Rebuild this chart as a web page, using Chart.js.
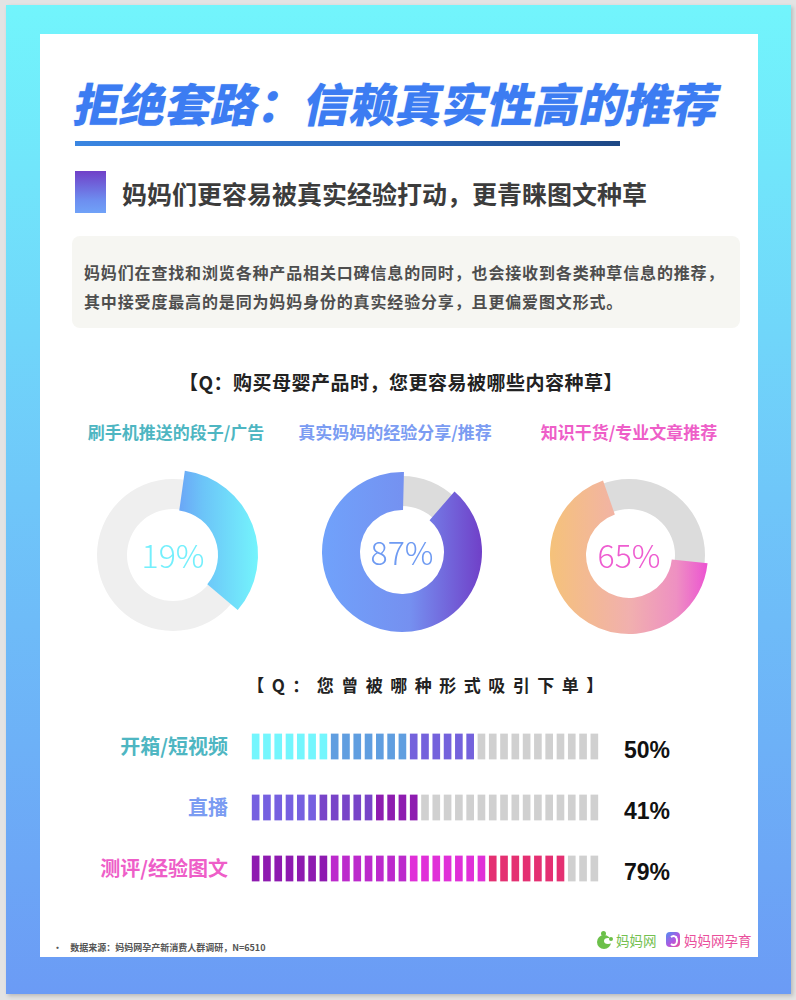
<!DOCTYPE html>
<html>
<head>
<meta charset="utf-8">
<script src="https://cdn.jsdelivr.net/npm/chart.js@4.4.1/dist/chart.umd.min.js"></script>
<style>
  html, body { margin: 0; padding: 0; }
  body { width: 796px; height: 1000px; background: #e3e3e3; position: relative; overflow: hidden;
         font-family: "Noto Sans CJK SC", "Noto Sans", sans-serif; }
  .abs { position: absolute; }
  #frame { left: 6px; top: 5px; width: 785px; height: 989px;
           background: linear-gradient(to bottom, #72f5fc 0%, #6fc6f9 50%, #6b9bf5 100%);
           box-shadow: 2px 2px 4px rgba(0,0,0,0.18); }
  #panel { left: 40px; top: 34px; width: 718px; height: 923px; background: #fff; }
  #title { left: 0; width: 796px; top: 72px; text-align: center; font-size: 46px; font-weight: 900;
           color: #3c7cf2; transform: skewX(-12deg); line-height: 60px; white-space: nowrap;
           text-shadow: 0 0 1px rgba(120,170,250,0.6); }
  #rule { left: 75px; top: 141px; width: 545px; height: 5px;
          background: linear-gradient(to right, #3a86e2, #2a66b8 60%, #1d4784); }
  #mark { left: 75px; top: 171px; width: 31px; height: 42px;
          background: linear-gradient(to bottom, #7040c8, #6d8ef0 70%, #70a2f8); }
  #sub { left: 122px; top: 173px; font-size: 25px; font-weight: 700; color: #3c3c3c; line-height: 40px; white-space: nowrap; }
  #box { left: 72px; top: 236px; width: 668px; height: 92px; background: #f6f6f2; border-radius: 8px; }
  #intro { left: 84px; top: 258px; font-size: 16px; font-weight: 700; color: #4e4e4e; line-height: 28.5px;
           letter-spacing: 0.85px; white-space: nowrap; }
  .q { width: 796px; text-align: center; font-weight: 700; color: #222; white-space: nowrap; }
  .dtitle { width: 240px; text-align: center; font-size: 17px; font-weight: 700; white-space: nowrap; }
  .dval { width: 120px; text-align: center; font-size: 32px; font-weight: 300; white-space: nowrap; line-height: 40px; }
  .rlabel { width: 160px; text-align: right; font-size: 20px; font-weight: 700; white-space: nowrap; line-height: 28px; }
  .rval { font-size: 23px; font-weight: 700; color: #111; white-space: nowrap; line-height: 28px; font-family: "Liberation Sans", Arial, sans-serif; }
  #foot { left: 53px; top: 941px; font-size: 9px; font-weight: 700; color: #555; white-space: nowrap; }
  .logo { font-size: 13.5px; white-space: nowrap; line-height: 20px; }
</style>
</head>
<body>
<div id="frame" class="abs"></div>
<div id="panel" class="abs"></div>
<div id="title" class="abs">拒绝套路：信赖真实性高的推荐</div>
<div id="rule" class="abs"></div>
<div id="mark" class="abs"></div>
<div id="sub" class="abs">妈妈们更容易被真实经验打动，更青睐图文种草</div>
<div id="box" class="abs"></div>
<div id="intro" class="abs">妈妈们在查找和浏览各种产品相关口碑信息的同时，也会接收到各类种草信息的推荐，<br>其中接受度最高的是同为妈妈身份的真实经验分享，且更偏爱图文形式。</div>
<div class="abs q" style="left:3px; top:368px; font-size:19px; letter-spacing:0.5px;">【Q：购买母婴产品时，您更容易被哪些内容种草】</div>
<div class="abs q" style="left:31px; top:672px; font-size:17px; letter-spacing:7.5px;">【Q：您曾被哪种形式吸引下单】</div>

<div id="donuts"></div>

<canvas id="bars" class="abs" width="350" height="183" style="left:250px; top:716px;"></canvas>
<div id="rows"></div>

<div id="foot" class="abs">·&nbsp;&nbsp;&nbsp;&nbsp;数据来源：妈妈网孕产新消费人群调研，N=6510</div>

<div class="abs" style="left:597px; top:931px; width:16px; height:18px;">
  <div class="abs" style="left:0; top:4px; width:14px; height:14px; border-radius:50%; background:#6cc04a;"></div>
  <div class="abs" style="left:7px; top:7px; width:8px; height:6px; border-radius:50%; background:#fff;"></div>
  <div class="abs" style="left:4px; top:0; width:5px; height:5px; border-radius:50%; background:#6cc04a;"></div>
  <div class="abs" style="left:12px; top:6px; width:4px; height:4px; border-radius:50%; background:#6cc04a;"></div>
</div>
<div class="abs logo" style="left:616px; top:930px; color:#74c050;">妈妈网</div>
<div class="abs" style="left:666px; top:932px; width:14px; height:15px; border-radius:4px; background:linear-gradient(135deg, #4f8ef2, #b058e0 55%, #f0509a);">
  <div class="abs" style="left:3px; top:3px; width:5px; height:7px; border:2px solid #fff; border-left-color:transparent; border-radius:50%;"></div>
</div>
<div class="abs logo" style="left:684px; top:930px; color:#ea4f9c;">妈妈网孕育</div>

<script>
// donuts: what each one asks about, the printed figure, and how much of the ring is coloured as drawn
const donutLabels = ['刷手机推送的段子/广告', '真实妈妈的经验分享/推荐', '知识干货/专业文章推荐'];
const donutPrinted = ['19%', '87%', '65%'];
const donutArc = [34, 89, 68];

// segmented bars: 31 ticks per row, coloured ticks as drawn
const formLabels = ['开箱/短视频', '直播', '测评/经验图文'];
const formValues = [50, 41, 79];
const segmentTotal = 31;
const segmentFilled = [20, 15, 28];

// ---- styles ----
const donutStyle = [
  { cx: 173, cy: 555, tx: 176, start: 8,  outer: 85, inner: 45, track: '#efefef', text: '#74effc', title: '#4eb6c2',
    stops: [[0, '#6a9ef6'], [0.35, '#6cc4f8'], [1, '#74f4fc']], gx: [0, 1] },
  { cx: 402, cy: 552, tx: 395, start: 41, outer: 80, inner: 42, track: '#dcdcdc', text: '#6f9bf2', title: '#7b9cf2',
    stops: [[0, '#70a2fb'], [0.55, '#7590f0'], [1, '#7040c8']], gx: [-1, 1] },
  { cx: 629, cy: 555, tx: 629, start: 96, outer: 79, inner: 43, track: '#dcdcdc', text: '#ee5cd0', title: '#ee5ec8',
    stops: [[0, '#f5c27a'], [0.5, '#f1b0ae'], [0.8, '#ee90c2'], [1, '#ec52d2']], gx: [-1, 1] }
];
const trackRing = { outer: 76, inner: 46 };
const rowBands = [
  [[7, '#74f6fd'], [7, '#609ee0'], [6, '#7462dc']],
  [[6, '#7660e0'], [5, '#7844c8'], [4, '#8e1cb0']],
  [[7, '#8e1ab0'], [7, '#bc2acc'], [7, '#e030d8'], [7, '#e43072']]
];
const rowColors = ['#4eb6c2', '#7b9cf2', '#ee5ec8'];
const rowY = [746, 807, 868];
const emptyTick = '#d0d0d0';

Chart.defaults.animation = false;
Chart.defaults.font.family = '"Noto Sans CJK SC", sans-serif';

function el(tag, cls, css, html) {
  const e = document.createElement(tag);
  if (cls) e.className = cls;
  e.style.cssText = css;
  if (html !== undefined) e.innerHTML = html;
  return e;
}

const holder = document.getElementById('donuts');
donutLabels.forEach(function (label, i) {
  const st = donutStyle[i];
  holder.appendChild(el('div', 'abs dtitle', 'left:' + (st.tx - 120) + 'px;top:419px;color:' + st.title + ';', label));

  const c1 = el('canvas', 'abs', 'left:' + (st.cx - 100) + 'px;top:' + (st.cy - 100) + 'px;');
  c1.width = 200; c1.height = 200;
  const c2 = el('canvas', 'abs', 'left:' + (st.cx - 100) + 'px;top:' + (st.cy - 100) + 'px;');
  c2.width = 200; c2.height = 200;
  holder.appendChild(c1);
  holder.appendChild(c2);

  const base = {
    responsive: false,
    plugins: { legend: { display: false }, tooltip: { enabled: false } },
    layout: { padding: 0 }
  };

  // grey track under the coloured arc
  new Chart(c1, {
    type: 'doughnut',
    data: { labels: ['track'], datasets: [{ data: [100], backgroundColor: st.track, borderWidth: 0 }] },
    options: Object.assign({}, base, {
      radius: trackRing.outer,
      cutout: (trackRing.inner / trackRing.outer * 100) + '%'
    })
  });

  new Chart(c2, {
    type: 'doughnut',
    data: {
      labels: [label, ''],
      datasets: [{
        data: [donutArc[i], 100 - donutArc[i]],
        backgroundColor: function (ctx) {
          if (ctx.dataIndex === 1) return 'rgba(0,0,0,0)';
          const g = ctx.chart.ctx.createLinearGradient(100 + st.gx[0] * st.outer, 0, 100 + st.gx[1] * st.outer, 0);
          st.stops.forEach(function (s) { g.addColorStop(s[0], s[1]); });
          return g;
        },
        borderWidth: 0
      }]
    },
    options: Object.assign({}, base, {
      rotation: st.start,
      radius: st.outer,
      cutout: (st.inner / st.outer * 100) + '%'
    })
  });

  holder.appendChild(el('div', 'abs dval', 'left:' + (st.cx - 60) + 'px;top:' + (st.cy - 21) + 'px;color:' + st.text + ';', donutPrinted[i]));
});

function tickColor(row, k) {
  if (k >= segmentFilled[row]) return emptyTick;
  let n = 0;
  for (const band of rowBands[row]) {
    n += band[0];
    if (k < n) return band[1];
  }
  return rowBands[row][rowBands[row].length - 1][1];
}

const tickSets = [];
for (let k = 0; k < segmentTotal; k++) {
  tickSets.push({
    data: formLabels.map(function () { return 1; }),
    backgroundColor: formLabels.map(function (_, r) { return tickColor(r, k); }),
    borderColor: '#ffffff',
    borderWidth: { left: 2.15, right: 2.15, top: 0, bottom: 0 },
    borderSkipped: false,
    barThickness: 26
  });
}

new Chart(document.getElementById('bars'), {
  type: 'bar',
  data: { labels: formLabels, datasets: tickSets },
  options: {
    indexAxis: 'y',
    responsive: false,
    layout: { padding: 0 },
    plugins: { legend: { display: false }, tooltip: { enabled: false } },
    scales: {
      x: { stacked: true, min: 0, max: segmentTotal, display: false },
      y: { stacked: true, display: false }
    }
  }
});

const rows = document.getElementById('rows');
formLabels.forEach(function (label, r) {
  rows.appendChild(el('div', 'abs rlabel', 'left:68px;top:' + (rowY[r] - 14) + 'px;color:' + rowColors[r] + ';', label));
  rows.appendChild(el('div', 'abs rval', 'left:624px;top:' + (rowY[r] - 10) + 'px;', formValues[r] + '%'));
});
</script>
</body>
</html>
